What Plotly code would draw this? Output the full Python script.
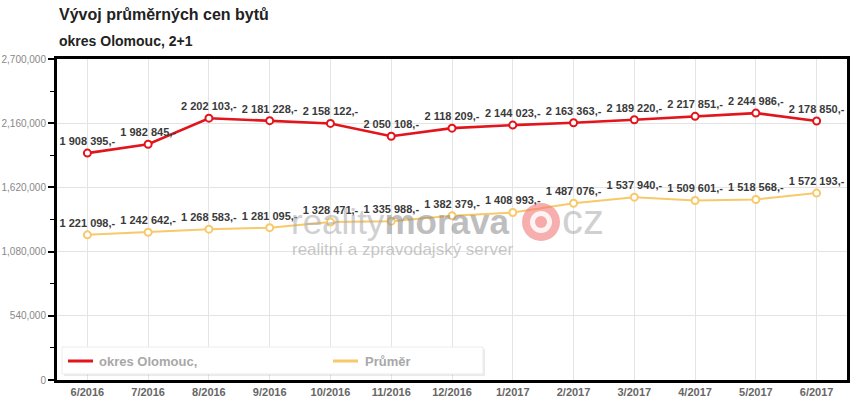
import plotly.graph_objects as go

months = ["6/2016", "7/2016", "8/2016", "9/2016", "10/2016", "11/2016", "12/2016",
          "1/2017", "2/2017", "3/2017", "4/2017", "5/2017", "6/2017"]
olomouc = [1908395, 1982845, 2202103, 2181228, 2158122, 2050108, 2118209,
           2144023, 2163363, 2189220, 2217851, 2244986, 2178850]
prumer = [1221098, 1242642, 1268583, 1281095, 1328471, 1335988, 1382379,
          1408993, 1487076, 1537940, 1509601, 1518568, 1572193]
y_ticks = [0, 540000, 1080000, 1620000, 2160000, 2700000]
series_names = ["okres Olomouc,", "Průměr"]

RED = "#e2141c"
YEL = "#f7c96b"
FONT = "Liberation Sans, Arial, sans-serif"

# plot area in pixels
L, R, T, B = 57, 847, 59, 380
PW, PH = R - L, B - T


def px(x):
    return (x - L) / PW


def py(y):
    return (B - y) / PH


def fmt(v):
    return f"{v:,}".replace(",", " ") + ",-"


fig = go.Figure()
for vals, col, w in [(olomouc, RED, 2.6), (prumer, YEL, 2)]:
    fig.add_trace(go.Scatter(
        x=months, y=vals, mode="lines+markers+text",
        text=[fmt(v) for v in vals], textposition="top center",
        textfont=dict(family=FONT, size=11, color="#3a3a3a"),
        texttemplate="<b>%{text}</b>",
        line=dict(color=col, width=w),
        marker=dict(symbol="circle", size=7, color="white", line=dict(color=col, width=2)),
        showlegend=False, hoverinfo="skip", cliponaxis=False))

annotations = [
    dict(text="<b>Vývoj průměrných cen bytů</b>", xref="paper", yref="paper",
         x=px(57), y=1.0, yshift=45, xanchor="left", yanchor="middle", showarrow=False,
         font=dict(family=FONT, size=16, color="#222")),
    dict(text="<b>okres Olomouc, 2+1</b>", xref="paper", yref="paper",
         x=px(57), y=1.0, yshift=18, xanchor="left", yanchor="middle", showarrow=False,
         font=dict(family=FONT, size=14, color="#222")),
    dict(text="<span style='color:#aaaaaa'>reality</span><b>morava</b>",
         xref="paper", yref="paper",
         x=px(289), y=py(222), xanchor="left", yanchor="middle",
         showarrow=False, opacity=0.55,
         font=dict(family=FONT, size=35, color="#8a8a8a")),
    dict(text="cz", xref="paper", yref="paper",
         x=px(560), y=py(220), xanchor="left", yanchor="middle",
         showarrow=False, opacity=0.45,
         font=dict(family=FONT, size=42, color="#999")),
    dict(text="realitní a zpravodajský server", xref="paper", yref="paper",
         x=px(290), y=py(250), xanchor="left", yanchor="middle",
         showarrow=False, opacity=0.45,
         font=dict(family=FONT, size=17, color="#888")),
    dict(text="<b>" + series_names[0] + "</b>", xref="paper", yref="paper",
         x=px(97), y=py(361), xanchor="left", yanchor="middle", showarrow=False,
         font=dict(family=FONT, size=13, color="#a8a8a8")),
    dict(text="<b>" + series_names[1] + "</b>", xref="paper", yref="paper",
         x=px(363), y=py(361), xanchor="left", yanchor="middle", showarrow=False,
         font=dict(family=FONT, size=13, color="#a8a8a8")),
]

shapes = [
    # watermark logo
    dict(type="circle", xref="paper", yref="paper", layer="above",
         x0=px(522), x1=px(560), y0=py(241), y1=py(203),
         fillcolor="rgba(240,120,120,0.6)", line=dict(width=0)),
    dict(type="circle", xref="paper", yref="paper", layer="above",
         x0=px(530), x1=px(552), y0=py(233), y1=py(211),
         fillcolor="rgba(255,255,255,0.85)", line=dict(width=0)),
    dict(type="circle", xref="paper", yref="paper", layer="above",
         x0=px(535), x1=px(547), y0=py(228), y1=py(216),
         fillcolor="rgba(240,120,120,0.6)", line=dict(width=0)),
    # legend box (shadow + box)
    dict(type="rect", xref="paper", yref="paper", layer="above",
         x0=px(64), x1=px(485), y0=py(376), y1=py(349),
         fillcolor="rgba(0,0,0,0.08)", line=dict(width=0)),
    dict(type="rect", xref="paper", yref="paper", layer="above",
         x0=px(62), x1=px(483), y0=py(374), y1=py(347),
         fillcolor="white", line=dict(color="#ececec", width=1)),
    dict(type="line", xref="paper", yref="paper", layer="above",
         x0=px(68), x1=px(93), y0=py(361), y1=py(361),
         line=dict(color=RED, width=3)),
    dict(type="line", xref="paper", yref="paper", layer="above",
         x0=px(333), x1=px(358), y0=py(361), y1=py(361),
         line=dict(color=YEL, width=3)),
]

fig.update_layout(
    width=858, height=406,
    margin=dict(l=L, r=858 - R, t=T, b=406 - B, autoexpand=False),
    paper_bgcolor="white", plot_bgcolor="white",
    font=dict(family=FONT, color="#555"),
    showlegend=False,
    xaxis=dict(type="category", range=[-0.5, 12.5], showgrid=True, gridcolor="#e4e4e4",
               showline=True, linecolor="black", linewidth=3, mirror=True,
               ticks="", tickfont=dict(size=11, color="#666", family=FONT),
               tickprefix="<b>", ticksuffix="</b>", zeroline=False, automargin=False),
    yaxis=dict(range=[0, 2700000], tickvals=y_ticks, tickformat=",d",
               showgrid=True, gridcolor="#e4e4e4", zeroline=False, automargin=False,
               showline=True, linecolor="black", linewidth=3, mirror=True,
               ticks="outside", ticklen=6, tickcolor="black", tickwidth=2,
               tickfont=dict(size=10, color="#888", family=FONT),
               minor=dict(dtick=270000, ticks="outside", ticklen=4, tickcolor="black",
                          tickwidth=1, showgrid=False)),
    annotations=annotations,
    shapes=shapes,
)

fig.write_html("out.html", config={"displayModeBar": False},
               post_script="document.body.style.margin='0';document.body.style.overflow='hidden';")
